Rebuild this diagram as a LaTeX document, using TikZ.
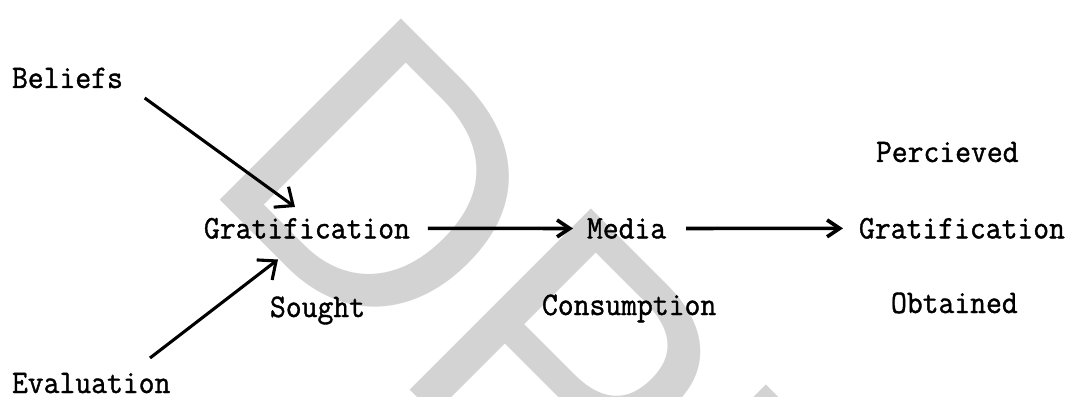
\documentclass[tikz,border=0pt]{standalone}
\usepackage{fontspec}
\newfontfamily\wmfont{Liberation Sans}
\newfontfamily\typew{Latin Modern Mono}[FakeStretch=0.935, FakeBold=1.2]
\usepackage{xcolor}
\usepackage{tikz}
\usetikzlibrary{arrows.meta,calc}
\definecolor{wmgray}{RGB}{211,211,211}
\tikzset{
  every node/.style={inner sep=0pt, outer sep=0pt}
}

\begin{document}
\begin{tikzpicture}[
  lbl/.style={font=\fontsize{23.4}{26}\selectfont\typew, anchor=base west},
  line/.style={-{Straight Barb[length=9pt,width=12pt]}, line width=2.6pt, draw=black},
  slant/.style={-{Straight Barb[length=10.5pt,width=18pt]}, line width=2.2pt, draw=black},
  wmark/.style={font=\fontsize{265}{265}\selectfont\wmfont, text=wmgray, anchor=base west, rotate=-45}
]
\useasboundingbox (0,0) rectangle (26.825,9.9);
% watermark behind everything
\node[wmark] (draft) at (4.95,5.43) {DPR};
\node[lbl] (beliefs) at (0.3,7.7) {Beliefs};
\node[lbl] (eval) at (0.3,0.075) {Evaluation};
\node[lbl] (gsought) at (5.1,3.94) {Gratification};
\node[lbl] (sought) at (6.75,1.975) {Sought};
\node[lbl] (media) at (14.675,3.94) {Media};
\node[lbl] (consump) at (13.55,2.025) {Consumption};
\node[lbl] (perc) at (21.9,5.85) {Percieved};
\node[lbl] (gobt) at (21.475,3.94) {Gratification};
\node[lbl] (obt) at (22.275,2.075) {Obtained};
\draw[slant] ([xshift=0.545cm,yshift=-0.25cm]beliefs.base east) -- ([xshift=2.275cm,yshift=0.785cm]gsought.base west);
\draw[slant] ([xshift=3.45cm,yshift=0.875cm]eval.base west) -- ([xshift=1.85cm,yshift=-0.5275cm]gsought.base west);
\draw[line, shorten <=0.45cm, shorten >=0.35cm] (gsought) -- (media);
\draw[line, shorten <=0.5cm, shorten >=0.4cm] (media) -- (gobt);
\end{tikzpicture}
\end{document}
